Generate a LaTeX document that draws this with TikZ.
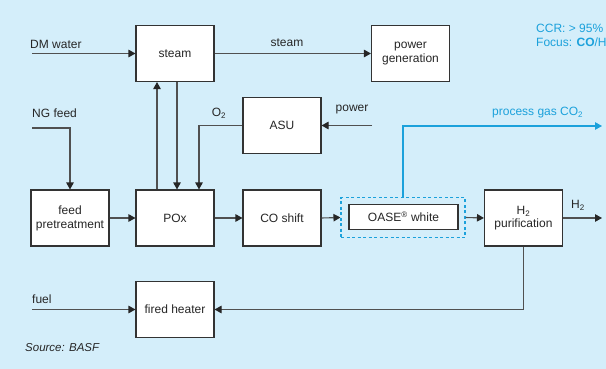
\documentclass[tikz,border=0pt]{standalone}
\usepackage{fontspec}
\setmainfont{Liberation Sans}
\usepackage{xcolor}
\usepackage{tikz}
\usetikzlibrary{arrows.meta,positioning,calc}
\definecolor{bgblue}{HTML}{D4EEFA}
\definecolor{gasblue}{HTML}{1BA1DB}
\definecolor{linegray}{HTML}{505050}

\begin{document}
\begin{tikzpicture}[x=1pt,y=-1pt,font=\fontsize{12}{14}\selectfont,
  unit/.style={draw=black!80,line width=1.1pt,fill=white,text=black!85,minimum width=78pt,minimum height=56pt,align=center,inner sep=1pt},
  flow/.style={draw=linegray,line width=1.1pt,-{Triangle[length=7pt,width=7.5pt,color=black!85]}},
  gas/.style={draw=gasblue,line width=1.1pt,-{Triangle[length=7pt,width=7.5pt]}},
  lbl/.style={text=black!85,inner sep=0pt}]
% Background panel
\useasboundingbox (0,0) rectangle (606,369);
\fill[bgblue] (0,0) rectangle (606,369);

% Process units
\node[unit] (steam) at (175,53.5) {steam};
\node[unit] (power) at (410.5,53.5) {power\\generation};
\node[unit] (asu) at (282,125.5) {ASU};
\node[unit] (feed) at (70,218) {feed\\pretreatment};
\node[unit] (pox) at (175,218) {POx};
\node[unit] (shift) at (282,218) {CO shift};
\node[draw=gasblue,dash pattern=on 3pt off 2.5pt,line width=1.1pt,minimum width=124pt,minimum height=40pt] (oasebox) at (403,217.5) {};
\node[unit,minimum width=109pt,minimum height=25pt] (oase) at (403.5,217) {OASE\textsuperscript{\footnotesize ®} white};
\node[unit] (h2p) at (523.5,218) {H\textsubscript{2}\\[-1pt]purification};
\node[unit] (heater) at (175,309.5) {fired heater};

% Free ends
\coordinate (dmin) at (32,53.5);
\coordinate (ngin) at (32,128);
\coordinate (powin) at (372,125.5);
\coordinate (fuelin) at (32,309.5);
\coordinate (co2out) at (602,126);
\coordinate (h2out) at (602,218);

% Steam and air side
\draw[flow] (dmin) -- (steam.west);
\draw[flow] (steam.east) -- (power.west);
\draw[flow] ([xshift=2pt]steam.south) -- ([xshift=2pt]pox.north);
\draw[flow] ([xshift=-18pt]pox.north) -- ([xshift=-18pt]steam.south);
\draw[flow] (asu.west) -| ([xshift=24pt]pox.north);
\draw[flow] (powin) -- (asu.east);

% Main gas line
\draw[flow] (ngin) -| (feed.north);
\draw[flow] (feed) -- (pox);
\draw[flow] (pox) -- (shift);
\draw[flow] (shift.east) -- (oasebox.west);
\draw[flow] (oasebox.east) -- (h2p.west);
\draw[flow] (h2p.east) -- (h2out);
\draw[gas] (oasebox.north) |- (co2out);

% Fuel loop
\draw[flow] (fuelin) -- (heater.west);
\draw[flow] (h2p.south) |- (heater.east);

% Labels
\node[lbl,anchor=west] (dmlbl) at (30,44) {DM water};
\node[lbl] (steamlbl) at (287,43) {steam};
\node[lbl,anchor=west] (nglbl) at (32,113) {NG feed};
\node[lbl] (o2lbl) at (219,113) {O\textsubscript{2}};
\node[lbl] (powlbl) at (352,110) {power};
\node[lbl,anchor=west,text=gasblue] (co2lbl) at (492,113) {process gas CO\textsubscript{2}};
\node[lbl,anchor=west] (h2lbl) at (571,205) {H\textsubscript{2}};
\node[lbl,anchor=west] (fuellbl) at (32,299) {fuel};
\node[lbl,anchor=west,font=\fontsize{11.5}{13}\selectfont\itshape] (srclbl) at (25,348) {Source: BASF};
\node[lbl,anchor=west,text=gasblue,align=left] (ccrlbl) at (536,36) {CCR: > 95\%\\Focus: \textbf{CO}/H\textsubscript{2}};
\end{tikzpicture}
\end{document}
